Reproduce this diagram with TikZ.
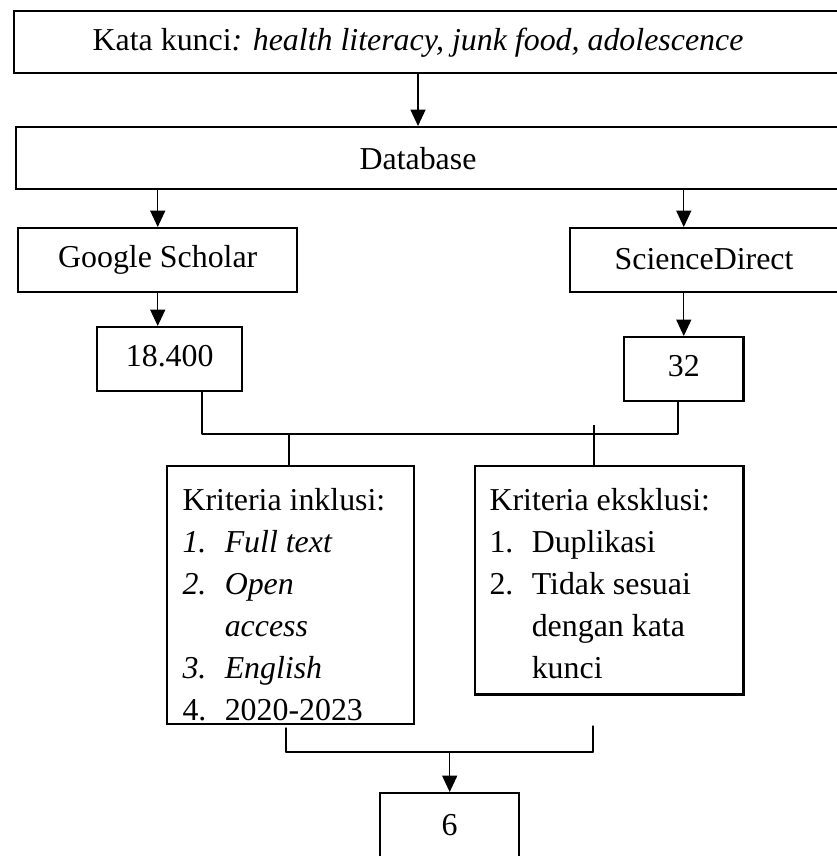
\documentclass[tikz,border=0pt]{standalone}
\usepackage{fontspec}
\setmainfont{Liberation Serif}
\usepackage{tikz}
\usepackage{tkz-euclide}
\usetikzlibrary{arrows.meta}

\begin{document}
\begin{tikzpicture}[x=0.367pt,y=-0.367pt,
	font=\fontsize{11.7pt}{15.4pt}\selectfont,
	kotak/.style={draw,line width=0.9pt,inner sep=0pt,anchor=north west,text height=8pt,text depth=2.5pt},
	isi/.style={inner sep=0pt,align=left,anchor=north west},
	garis/.style={line width=0.5pt},
	panah/.style={line width=0.5pt,-{Triangle[width=5.5pt,length=6pt]}}]
	\useasboundingbox (0,0) rectangle (836,856);
	\node[kotak,minimum width=310.8pt,minimum height=22.75pt] (kunci) at (13,10) {};
	\node[anchor=base] (kuncitxt) at (418,51) {Kata kunci\textit{: health literacy, junk food, adolescence}};
	\node[kotak,minimum width=310.1pt,minimum height=22.75pt] (db) at (15,126) {};
	\node[anchor=base] (dbtxt) at (418,170) {Database};
	\node[kotak,minimum width=102.4pt,minimum height=23.5pt] (gs) at (17,227) {Google Scholar};
	\node[kotak,minimum width=106.8pt,minimum height=23.5pt] (sd) at (569,227) {};
	\node[anchor=base] (sdtxt) at (704,270) {ScienceDirect};
	\node[kotak,minimum width=53.2pt,minimum height=23.5pt] (gsjml) at (96,326) {18.400};
	\node[kotak,minimum width=43.7pt,minimum height=23.5pt] (sdjml) at (623,336) {32};
	\node[kotak,minimum width=90.6pt,minimum height=94.7pt] (inklusi) at (166,465) {};
	\node[isi] (inklusitxt) at (182,488) {Kriteria inklusi:\\
		\textit{\makebox[15.5pt][l]{1.}Full text}\\
		\textit{\makebox[15.5pt][l]{2.}Open}\\
		\textit{\hspace*{15.5pt}access}\\
		\textit{\makebox[15.5pt][l]{3.}English}\\
		\makebox[15.5pt][l]{4.}2020-2023};
	\node[kotak,minimum width=98.4pt,minimum height=83.7pt] (eksklusi) at (474,465) {};
	\node[isi] (eksklusitxt) at (489,488) {Kriteria eksklusi:\\
		\makebox[15.5pt][l]{1.}Duplikasi\\
		\makebox[15.5pt][l]{2.}Tidak sesuai\\
		\hspace*{15.5pt}dengan kata\\
		\hspace*{15.5pt}kunci};
	\node[kotak,minimum width=51pt,minimum height=25.7pt] (hasil) at (379,792) {6};
	\tkzDefPoints{202/434/J1,678/434/J2,289/434/J3,594/425/J4,286/728/J5,286/752/J6,593/726/J7,593/752/J8}
	\draw[panah] (kunci.south -| kuncitxt) -- (db.north -| kuncitxt);
	\draw[panah] (db.south -| gs) -- (gs.north);
	\draw[panah] (db.south -| sdjml) -- (sd.north -| sdjml);
	\draw[panah] (gs.south) -- (gs.south |- gsjml.north);
	\draw[panah] (sd.south -| sdjml) -- (sdjml.north);
	\draw[garis] (gsjml.south -| J1) -- (J1);
	\draw[garis] (sdjml.south -| J2) -- (J2);
	\draw[garis] (J3) -- (inklusi.north -| J3);
	\draw[garis] (J4) -- (eksklusi.north -| J4);
	\tkzDrawSegments[garis](J1,J2 J5,J6 J6,J8 J7,J8)
	\draw[panah] (J6 -| hasil) -- (hasil.north);
\end{tikzpicture}
\end{document}
